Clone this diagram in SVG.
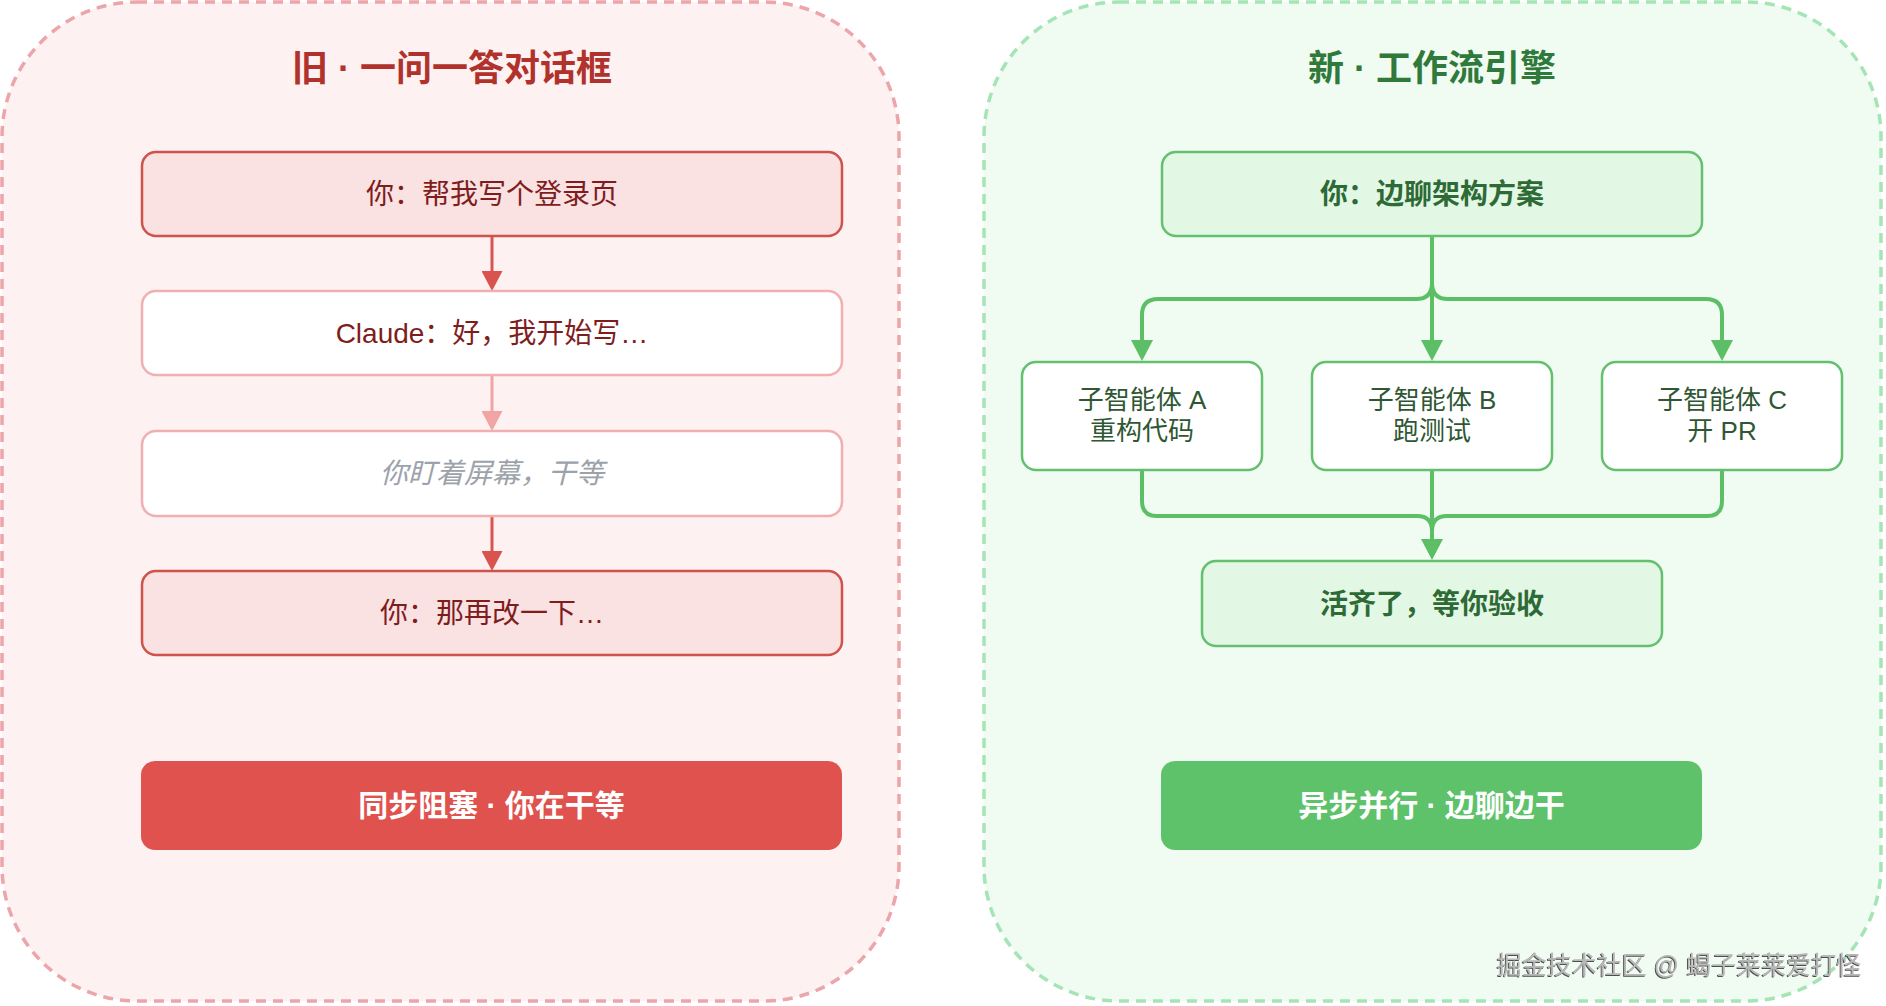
<svg xmlns="http://www.w3.org/2000/svg" width="1886" height="1006" viewBox="0 0 1886 1006">
  <style>
    text{font-family:"Liberation Sans","Noto Sans CJK SC",sans-serif;text-anchor:middle}
    .panel-old{fill:#fdf2f1;stroke:#eca5ab;stroke-width:3.5;stroke-dasharray:10 7}
    .panel-new{fill:#f0fbf2;stroke:#a5e5b5;stroke-width:3.5;stroke-dasharray:10 7}
    .title{font-size:36px;font-weight:bold}
    .t-old{fill:#b1322c}
    .t-new{fill:#2f7a3b}
    .box-red{fill:#fae1e2;stroke:#cf524c;stroke-width:2.5}
    .box-pale{fill:#ffffff;stroke:#f0b0b2;stroke-width:2.5}
    .box-green{fill:#e3f7e5;stroke:#63c06e;stroke-width:2.5}
    .box-sub{fill:#ffffff;stroke:#63c06e;stroke-width:2.5}
    .lbl{font-size:28px}
    .lbl-red{fill:#7f1d1d}
    .lbl-wait{fill:#9ca2aa;font-style:italic}
    .lbl-green{fill:#2d6a35;font-weight:bold}
    .lbl-sub{font-size:26px;fill:#2f5733}
    .bar-text{font-size:30px;font-weight:bold;fill:#ffffff}
    .arr-red{fill:none;stroke:#d9534f;stroke-width:3}
    .arr-pale{fill:none;stroke:#f0a4a4;stroke-width:3}
    .arr-green{fill:none;stroke:#5cbf66;stroke-width:4}
    .wm{font-size:25px;fill:#b8b8b8}
  </style>
  <defs>
    <marker id="head-red" markerUnits="userSpaceOnUse" markerWidth="20" markerHeight="21" refX="10" refY="10.5" orient="auto">
      <path d="M0,0 L20,10.5 L0,21 z" fill="#d9534f"/>
    </marker>
    <marker id="head-pale" markerUnits="userSpaceOnUse" markerWidth="20" markerHeight="21" refX="10" refY="10.5" orient="auto">
      <path d="M0,0 L20,10.5 L0,21 z" fill="#f0a4a4"/>
    </marker>
    <marker id="head-green" markerUnits="userSpaceOnUse" markerWidth="21" markerHeight="22" refX="11" refY="11" orient="auto">
      <path d="M0,0 L21,11 L0,22 z" fill="#5cbf66"/>
    </marker>
    <filter id="emboss" x="-5%" y="-30%" width="110%" height="160%">
      <feDropShadow dx="-1" dy="1" stdDeviation="0.4" flood-color="#3a3a3a" flood-opacity="0.9"/>
    </filter>
  </defs>

  <!-- panels -->
  <g id="panel-old">
    <rect class="panel-old" x="2" y="2" width="897" height="999" rx="135"/>
    <text class="title t-old" x="452" y="81">旧 · 一问一答对话框</text>
  </g>
  <g id="panel-new">
    <rect class="panel-new" x="984" y="2" width="897" height="999" rx="135"/>
    <text class="title t-new" x="1432" y="81">新 · 工作流引擎</text>
  </g>

  <!-- connectors -->
  <g id="connectors">
    <path class="arr-red" d="M492,236 V281" marker-end="url(#head-red)"/>
    <path class="arr-pale" d="M492,375 V421" marker-end="url(#head-pale)"/>
    <path class="arr-red" d="M492,516 V561" marker-end="url(#head-red)"/>

    <path class="arr-green" d="M1432,236 V351" marker-end="url(#head-green)"/>
    <path class="arr-green" d="M1432,283 Q1432,299 1416,299 H1158 Q1142,299 1142,315 V351" marker-end="url(#head-green)"/>
    <path class="arr-green" d="M1432,283 Q1432,299 1448,299 H1706 Q1722,299 1722,315 V351" marker-end="url(#head-green)"/>

    <path class="arr-green" d="M1142,470 V501 Q1142,516 1157,516 H1417 Q1432,516 1432,531"/>
    <path class="arr-green" d="M1722,470 V501 Q1722,516 1707,516 H1447 Q1432,516 1432,531"/>
    <path class="arr-green" d="M1432,470 V550" marker-end="url(#head-green)"/>
  </g>

  <!-- old flow nodes -->
  <g id="old-you-ask">
    <rect class="box-red" x="142" y="152" width="700" height="84" rx="14"/>
    <text class="lbl lbl-red" x="492" y="204">你：帮我写个登录页</text>
  </g>
  <g id="old-claude">
    <rect class="box-pale" x="142" y="291" width="700" height="84" rx="14"/>
    <text class="lbl lbl-red" x="492" y="343">Claude：好，我开始写…</text>
  </g>
  <g id="old-wait">
    <rect class="box-pale" x="142" y="431" width="700" height="85" rx="14"/>
    <text class="lbl lbl-wait" x="492" y="483">你盯着屏幕，干等</text>
  </g>
  <g id="old-you-again">
    <rect class="box-red" x="142" y="571" width="700" height="84" rx="14"/>
    <text class="lbl lbl-red" x="492" y="623">你：那再改一下…</text>
  </g>
  <g id="old-summary">
    <rect x="141" y="761" width="701" height="89" rx="14" fill="#df524e"/>
    <text class="bar-text" x="491.5" y="816">同步阻塞 · 你在干等</text>
  </g>

  <!-- new flow nodes -->
  <g id="new-you-chat">
    <rect class="box-green" x="1162" y="152" width="540" height="84" rx="14"/>
    <text class="lbl lbl-green" x="1432" y="204">你：边聊架构方案</text>
  </g>
  <g id="new-agent-a">
    <rect class="box-sub" x="1022" y="362" width="240" height="108" rx="14"/>
    <text class="lbl-sub" x="1142" y="409">子智能体 A</text>
    <text class="lbl-sub" x="1142" y="440">重构代码</text>
  </g>
  <g id="new-agent-b">
    <rect class="box-sub" x="1312" y="362" width="240" height="108" rx="14"/>
    <text class="lbl-sub" x="1432" y="409">子智能体 B</text>
    <text class="lbl-sub" x="1432" y="440">跑测试</text>
  </g>
  <g id="new-agent-c">
    <rect class="box-sub" x="1602" y="362" width="240" height="108" rx="14"/>
    <text class="lbl-sub" x="1722" y="409">子智能体 C</text>
    <text class="lbl-sub" x="1722" y="440">开 PR</text>
  </g>
  <g id="new-done">
    <rect class="box-green" x="1202" y="561" width="460" height="85" rx="14"/>
    <text class="lbl lbl-green" x="1432" y="614">活齐了，等你验收</text>
  </g>
  <g id="new-summary">
    <rect x="1161" y="761" width="541" height="89" rx="14" fill="#5ec26a"/>
    <text class="bar-text" x="1431.5" y="816">异步并行 · 边聊边干</text>
  </g>

  <text class="wm" x="1679" y="974" filter="url(#emboss)">掘金技术社区 @ 蝎子莱莱爱打怪</text>
</svg>
